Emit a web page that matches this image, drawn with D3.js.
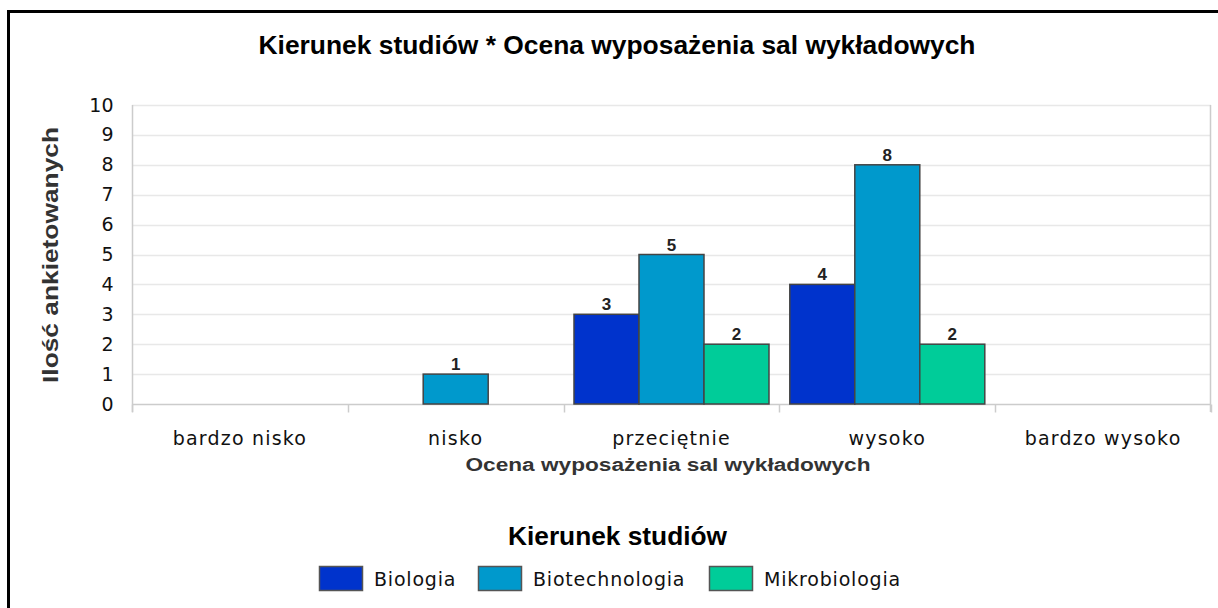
<!DOCTYPE html>
<html>
<head>
<meta charset="utf-8">
<script src="https://cdn.jsdelivr.net/npm/d3@7/dist/d3.min.js"></script>
<style>
  body { margin: 0; background: #fff; }
  svg { display: block; }
</style>
</head>
<body>
<div id="chart"></div>
<script>
// data
var categories = ["bardzo nisko", "nisko", "przeciętnie", "wysoko", "bardzo wysoko"];
var seriesNames = ["Biologia", "Biotechnologia", "Mikrobiologia"];
var biologia = [0, 0, 3, 4, 0];
var biotechnologia = [0, 1, 5, 8, 0];
var mikrobiologia = [0, 0, 2, 2, 0];
var yTicks = [0, 1, 2, 3, 4, 5, 6, 7, 8, 9, 10];
var colors = ["#0033cc", "#0099cc", "#00cc99"];

var seriesValues = [biologia, biotechnologia, mikrobiologia];

var svgWidth = 1218, svgHeight = 608;
var plot = { left: 132, top: 105, right: 1211, bottom: 404 };

var svg = d3.select("#chart")
  .append("svg")
  .attr("width", svgWidth)
  .attr("height", svgHeight);

// outer frame (right / bottom edges run off the picture)
svg.append("rect")
  .attr("x", 8.5).attr("y", 11.5)
  .attr("width", 1230).attr("height", 620)
  .attr("fill", "#fff")
  .attr("stroke", "#000")
  .attr("stroke-width", 3);

// title
svg.append("text")
  .attr("x", 617).attr("y", 54)
  .attr("text-anchor", "middle")
  .attr("font-family", "'Liberation Sans', Arial, sans-serif")
  .attr("font-weight", "bold")
  .attr("font-size", 25)
  .attr("fill", "#000")
  .attr("textLength", 717)
  .attr("lengthAdjust", "spacingAndGlyphs")
  .text("Kierunek studiów * Ocena wyposażenia sal wykładowych");

// scales
var x0 = d3.scaleBand()
  .domain(categories)
  .range([plot.left, plot.right])
  .paddingInner(0)
  .paddingOuter(0);

var x1 = d3.scaleBand()
  .domain(seriesNames)
  .range([0, x0.bandwidth()])
  .paddingOuter(0.16)
  .paddingInner(0);

var y = d3.scaleLinear()
  .domain([0, 10])
  .range([plot.bottom, plot.top]);

// gridlines
svg.append("g")
  .selectAll("line")
  .data(yTicks.slice(1))
  .enter()
  .append("line")
  .attr("x1", plot.left).attr("x2", plot.right)
  .attr("y1", d => Math.round(y(d)) + 0.5).attr("y2", d => Math.round(y(d)) + 0.5)
  .attr("stroke", "#e8e8e8")
  .attr("stroke-width", 1.5);

// right border of plot
svg.append("line")
  .attr("x1", plot.right - 0.5).attr("x2", plot.right - 0.5)
  .attr("y1", plot.top).attr("y2", plot.bottom + 8)
  .attr("stroke", "#cccccc")
  .attr("stroke-width", 1.5);

// y axis
var yAxis = d3.axisLeft(y).tickValues(yTicks).tickSize(0).tickPadding(19);
var gy = svg.append("g")
  .attr("transform", "translate(" + (plot.left + 0.5) + ",0)")
  .call(yAxis);
gy.select(".domain").attr("stroke", "#cccccc").attr("stroke-width", 1.5)
  .attr("d", "M0," + (plot.top) + "V" + (plot.bottom + 8));
gy.selectAll("text")
  .attr("font-family", "'DejaVu Sans', sans-serif")
  .attr("font-size", 19)
  .attr("fill", "#111");

// x axis: ticks at band boundaries
var boundaries = categories.map(c => x0(c)).concat([plot.right]);
var xAxis = d3.axisBottom(x0).tickSize(0).tickPadding(27);
var gx = svg.append("g")
  .attr("transform", "translate(0," + (plot.bottom + 0.5) + ")")
  .call(xAxis);
gx.select(".domain").attr("stroke", "#cccccc").attr("stroke-width", 1.5)
  .attr("d", "M" + plot.left + ",0H" + plot.right);
gx.selectAll("text")
  .attr("font-family", "'DejaVu Sans', sans-serif")
  .attr("font-size", 19)
  .attr("letter-spacing", 1.2)
  .attr("fill", "#111");
gx.selectAll(".bnd")
  .data(boundaries)
  .enter()
  .append("line")
  .attr("class", "bnd")
  .attr("x1", d => Math.round(d) + 0.5).attr("x2", d => Math.round(d) + 0.5)
  .attr("y1", 0).attr("y2", 8)
  .attr("stroke", "#cccccc")
  .attr("stroke-width", 1.5);

// bars
var groups = svg.append("g")
  .selectAll("g")
  .data(categories)
  .enter()
  .append("g")
  .attr("transform", d => "translate(" + x0(d) + ",0)");

var bars = groups.selectAll("rect")
  .data((c, i) => seriesNames.map((s, j) => ({ series: s, idx: j, value: seriesValues[j][i] })).filter(d => d.value > 0))
  .enter();

bars.append("rect")
  .attr("x", d => x1(d.series))
  .attr("y", d => y(d.value))
  .attr("width", x1.bandwidth())
  .attr("height", d => y(0) - y(d.value))
  .attr("fill", d => colors[d.idx])
  .attr("stroke", "#444")
  .attr("stroke-width", 1.5);

bars.append("text")
  .attr("x", d => x1(d.series) + x1.bandwidth() / 2)
  .attr("y", d => y(d.value) - 4)
  .attr("text-anchor", "middle")
  .attr("font-family", "'Liberation Sans', Arial, sans-serif")
  .attr("font-weight", "bold")
  .attr("font-size", 17)
  .attr("fill", "#222")
  .text(d => d.value);

// axis titles
svg.append("text")
  .attr("transform", "translate(58,255) rotate(-90)")
  .attr("text-anchor", "middle")
  .attr("font-family", "'Liberation Sans', Arial, sans-serif")
  .attr("font-weight", "bold")
  .attr("font-size", 22)
  .attr("fill", "#333")
  .attr("textLength", 256)
  .attr("lengthAdjust", "spacingAndGlyphs")
  .text("Ilość ankietowanych");

svg.append("text")
  .attr("x", 668).attr("y", 471)
  .attr("text-anchor", "middle")
  .attr("font-family", "'Liberation Sans', Arial, sans-serif")
  .attr("font-weight", "bold")
  .attr("font-size", 18)
  .attr("fill", "#333")
  .attr("textLength", 405)
  .attr("lengthAdjust", "spacingAndGlyphs")
  .text("Ocena wyposażenia sal wykładowych");

// legend
svg.append("text")
  .attr("x", 617.5).attr("y", 545)
  .attr("text-anchor", "middle")
  .attr("font-family", "'Liberation Sans', Arial, sans-serif")
  .attr("font-weight", "bold")
  .attr("font-size", 25)
  .attr("fill", "#000")
  .attr("textLength", 219)
  .attr("lengthAdjust", "spacingAndGlyphs")
  .text("Kierunek studiów");

var legendX = [319, 478, 709];
var legend = svg.append("g")
  .selectAll("g")
  .data(seriesNames)
  .enter()
  .append("g")
  .attr("transform", (d, i) => "translate(" + legendX[i] + ",566)");

legend.append("rect")
  .attr("x", 0.5).attr("y", 0.5)
  .attr("width", 43).attr("height", 24)
  .attr("fill", (d, i) => colors[i])
  .attr("stroke", "#555")
  .attr("stroke-width", 1.5);

legend.append("text")
  .attr("x", 55).attr("y", 20)
  .attr("font-family", "'DejaVu Sans', sans-serif")
  .attr("font-size", 19)
  .attr("letter-spacing", 0.8)
  .attr("fill", "#111")
  .text(d => d);
</script>
</body>
</html>
